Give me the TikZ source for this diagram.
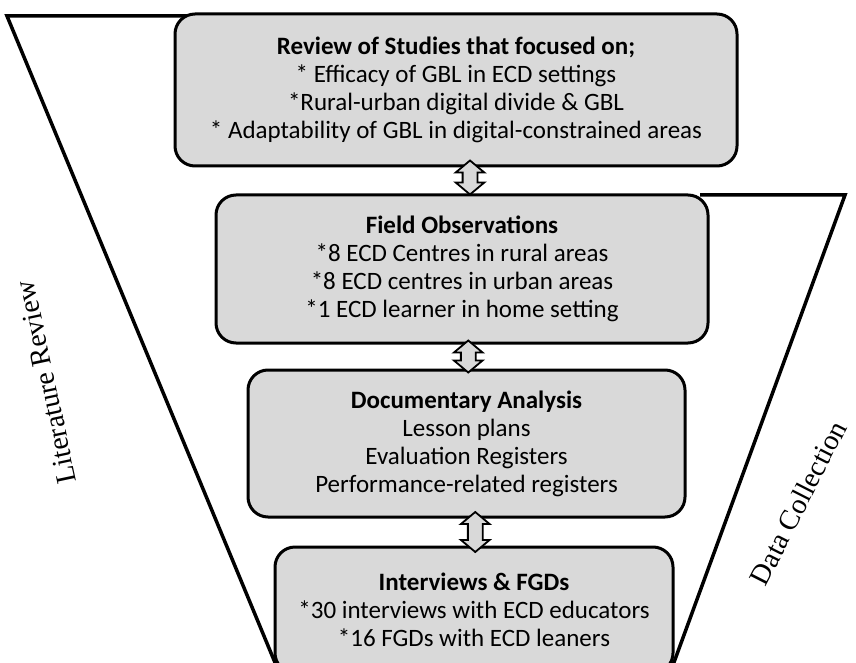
\documentclass[tikz,border=0pt]{standalone}
\usepackage{fontspec}
\setmainfont{Carlito}
\newfontfamily\labelfont{Liberation Serif}
\usetikzlibrary{shapes.arrows,calc,positioning}
\definecolor{boxgray}{HTML}{D9D9D9}

\begin{document}
\begin{tikzpicture}[x=1pt,y=-1pt]

    \tikzstyle{stage}=[rectangle, rounded corners=20pt, draw=black, line width=3pt, fill=boxgray, align=center, font=\fontsize{25}{28}\selectfont, inner sep=0pt]
    \tikzstyle{funnel}=[line width=3.5pt, line join=miter]
    \tikzstyle{link}=[double arrow, draw=black, line width=1.8pt, fill=boxgray, rotate=90, inner sep=6.5pt, double arrow head extend=7pt, double arrow tip angle=100]
    \tikzstyle{side}=[font=\labelfont\fontsize{28.5}{28.5}\selectfont]

    % Page size
    \useasboundingbox (0,0) rectangle (856,663);

    % Funnel
    \coordinate (litTop) at (7,16);
    \coordinate (litEnd) at (203,16);
    \coordinate (litBottom) at (276,665);
    \coordinate (datTop) at (845,195);
    \coordinate (datEnd) at (700,195);
    \coordinate (datBottom) at (673,665);
    \draw[funnel] (litEnd) -- (litTop) -- (litBottom);
    \draw[funnel] (datEnd) -- (datTop) -- (datBottom);

    % Stages
    \node at (456,90) [stage, minimum width=562pt, minimum height=152pt] (review)
        {\textbf{Review of Studies that focused on;}\\
         * Efficacy of GBL in ECD settings\\
         *Rural-urban digital divide \& GBL\\
         * Adaptability of GBL in digital-constrained areas};
    \node at (462,269) [stage, minimum width=492pt, minimum height=148pt] (field)
        {\textbf{Field Observations}\\
         *8 ECD Centres in rural areas\\
         *8 ECD centres in urban areas\\
         *1 ECD learner in home setting};
    \node at (466.5,443.5) [stage, minimum width=437pt, minimum height=147pt] (docs)
        {\textbf{Documentary Analysis}\\
         Lesson plans\\
         Evaluation Registers\\
         Performance-related registers};
    \node at (474,610) [stage, minimum width=398pt, minimum height=126pt] (talks)
        {\textbf{Interviews \& FGDs}\\
         *30 interviews with ECD educators\\
         *16 FGDs with ECD leaners};

    % Links
    \node at ($(review.south)!.5!(field.north)+(11,-3)$) [link, minimum height=34pt] (reviewField) {};
    \node at ($(field.south)!.5!(docs.north)+(4,0)$) [link, minimum height=32pt] (fieldDocs) {};
    \node at ($(docs.south)!.5!(talks.north)+(5,0)$) [link, minimum height=40pt] (docsTalks) {};

    % Side labels
    \node at (46,382) [side, rotate=102] (litLabel) {Literature Review};
    \node at (798,503) [side, rotate=63] (datLabel) {Data Collection};

\end{tikzpicture}
\end{document}
